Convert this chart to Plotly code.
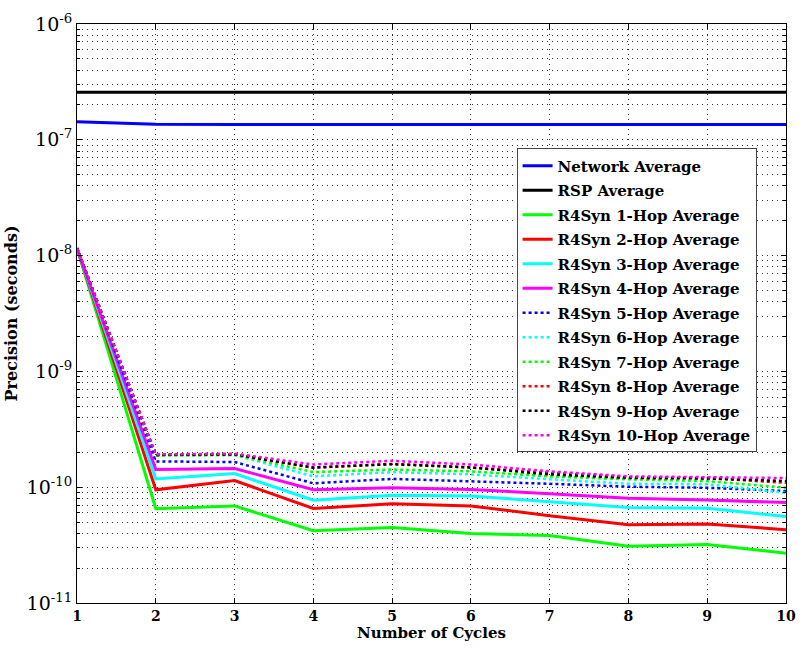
import plotly.graph_objects as go

cycles = [1, 2, 3, 4, 5, 6, 7, 8, 9, 10]

network_avg = [1.43e-7, 1.36e-7, 1.355e-7, 1.355e-7, 1.355e-7, 1.355e-7, 1.355e-7, 1.355e-7, 1.355e-7, 1.355e-7]
rsp_avg = [2.58e-7, 2.58e-7, 2.58e-7, 2.58e-7, 2.58e-7, 2.58e-7, 2.58e-7, 2.58e-7, 2.58e-7, 2.58e-7]

hop1 = [1.16e-8, 6.53e-11, 6.89e-11, 4.21e-11, 4.49e-11, 3.99e-11, 3.82e-11, 3.09e-11, 3.20e-11, 2.69e-11]
hop2 = [1.16e-8, 9.50e-11, 1.14e-10, 6.56e-11, 7.21e-11, 6.89e-11, 5.66e-11, 4.74e-11, 4.81e-11, 4.30e-11]
hop3 = [1.16e-8, 1.18e-10, 1.31e-10, 7.71e-11, 8.51e-11, 8.39e-11, 7.50e-11, 6.67e-11, 6.59e-11, 5.58e-11]
hop4 = [1.16e-8, 1.42e-10, 1.45e-10, 9.50e-11, 9.89e-11, 9.57e-11, 8.79e-11, 8.02e-11, 7.76e-11, 7.36e-11]
hop5 = [1.16e-8, 1.67e-10, 1.65e-10, 1.08e-10, 1.18e-10, 1.13e-10, 1.07e-10, 1.01e-10, 9.89e-11, 9.26e-11]
hop6 = [1.16e-8, 1.88e-10, 1.90e-10, 1.24e-10, 1.35e-10, 1.29e-10, 1.17e-10, 1.07e-10, 1.06e-10, 8.95e-11]
hop7 = [1.16e-8, 1.88e-10, 1.90e-10, 1.35e-10, 1.42e-10, 1.37e-10, 1.24e-10, 1.17e-10, 1.13e-10, 9.89e-11]
hop8 = [1.16e-8, 1.90e-10, 1.92e-10, 1.47e-10, 1.59e-10, 1.48e-10, 1.33e-10, 1.22e-10, 1.20e-10, 1.09e-10]
hop9 = [1.16e-8, 1.90e-10, 1.92e-10, 1.48e-10, 1.58e-10, 1.48e-10, 1.29e-10, 1.20e-10, 1.19e-10, 1.13e-10]
hop10 = [1.16e-8, 1.92e-10, 1.95e-10, 1.57e-10, 1.69e-10, 1.57e-10, 1.37e-10, 1.24e-10, 1.22e-10, 1.20e-10]

series_names = [
    "Network Average", "RSP Average",
    "R4Syn 1-Hop Average", "R4Syn 2-Hop Average", "R4Syn 3-Hop Average",
    "R4Syn 4-Hop Average", "R4Syn 5-Hop Average", "R4Syn 6-Hop Average",
    "R4Syn 7-Hop Average", "R4Syn 8-Hop Average", "R4Syn 9-Hop Average",
    "R4Syn 10-Hop Average",
]
series_values = [network_avg, rsp_avg, hop1, hop2, hop3, hop4, hop5, hop6, hop7, hop8, hop9, hop10]
series_colors = ["#0000FF", "#000000", "#00FF00", "#FF0000", "#00FFFF", "#FF00FF",
                 "#0000FF", "#00FFFF", "#00FF00", "#FF0000", "#000000", "#FF00FF"]
series_dash = ["solid"] * 6 + ["dot"] * 6

y_tickvals = [1e-11, 1e-10, 1e-9, 1e-8, 1e-7, 1e-6]
y_ticktext = ["10<sup>-11</sup>", "10<sup>-10</sup>", "10<sup>-9</sup>",
              "10<sup>-8</sup>", "10<sup>-7</sup>", "10<sup>-6</sup>"]
x_tickvals = cycles
x_ticktext = [str(c) for c in cycles]

FONT = "DejaVu Serif"

fig = go.Figure()
for name, vals, col, dash in zip(series_names, series_values, series_colors, series_dash):
    fig.add_trace(go.Scatter(
        x=cycles, y=vals, mode="lines", name=name, legendgroup=name,
        line=dict(color=col, width=3 if dash == "solid" else 2.5, dash=dash),
    ))

grid_dash = "1px,4px"
fig.update_layout(
    width=807, height=653,
    paper_bgcolor="white", plot_bgcolor="white",
    margin=dict(l=77, r=11, t=18, b=50),
    font=dict(family=FONT, color="#000"),
    showlegend=True,
    legend=dict(
        x=0.62, y=0.785, xanchor="left", yanchor="top",
        bgcolor="white", bordercolor="#444", borderwidth=1,
        font=dict(family=FONT, size=15, color="#000", weight="bold"),
        tracegroupgap=2,
    ),
)
fig.update_xaxes(
    range=[1, 10], tickvals=x_tickvals, ticktext=x_ticktext,
    showline=True, linecolor="#000", linewidth=1, mirror="ticks",
    ticks="inside", ticklen=5, tickcolor="#000",
    showgrid=True, gridcolor="#333", gridwidth=1, griddash=grid_dash,
    zeroline=False,
    tickfont=dict(family=FONT, size=14, color="#000", weight="bold"),
    title=dict(text="Number of Cycles", font=dict(family=FONT, size=15, color="#000", weight="bold"), standoff=2),
)
fig.update_yaxes(
    type="log", range=[-11, -6], tickvals=y_tickvals, ticktext=y_ticktext,
    showline=True, linecolor="#000", linewidth=1, mirror="ticks",
    ticks="inside", ticklen=5, tickcolor="#000",
    showgrid=True, gridcolor="#333", gridwidth=1, griddash=grid_dash,
    minor=dict(dtick="D1", ticks="inside", ticklen=3, tickcolor="#000",
               showgrid=True, gridcolor="#333", gridwidth=1, griddash=grid_dash),
    zeroline=False,
    tickfont=dict(family=FONT, size=19, color="#000"),
    title=dict(text="Precision (seconds)", font=dict(family=FONT, size=16, color="#000", weight="bold"), standoff=4),
)

fig.write_html("out.html", config={"displayModeBar": False},
               post_script="document.body.style.margin='0px';")
